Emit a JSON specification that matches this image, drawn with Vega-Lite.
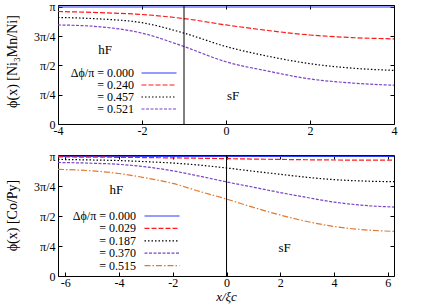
{
  "$schema": "https://vega.github.io/schema/vega-lite/v6.json",
  "padding": {"left": 4, "top": 0, "right": 0, "bottom": 0},
  "bounds": "flush",
  "spacing": 31,
  "config": {
    "font": "Liberation Serif",
    "view": {"stroke": "black", "strokeWidth": 1},
    "axis": {"grid": false, "domain": false, "tickColor": "black", "tickSize": -4, "labelColor": "black", "labelFontSize": 12, "labelFont": "Liberation Serif", "titleFont": "Liberation Serif", "titleFontWeight": "normal", "titleColor": "black", "titleFontSize": 14, "labelOverlap": false, "labelFlush": false, "labelBound": false},
    "legend": {"labelFont": "Liberation Serif", "labelFontSize": 12, "labelColor": "black"},
    "text": {"font": "Liberation Serif", "fontSize": 13, "color": "black"}
  },
  "datasets": {
    "top": [
      {"series": "0.000", "x": -4, "phi": 3.1416},
      {"series": "0.000", "x": 4, "phi": 3.1416},
      {"series": "0.240", "x": -4, "phi": 3.02},
      {"series": "0.240", "x": -3, "phi": 2.99},
      {"series": "0.240", "x": -2, "phi": 2.94},
      {"series": "0.240", "x": -1, "phi": 2.83},
      {"series": "0.240", "x": 0, "phi": 2.66},
      {"series": "0.240", "x": 1, "phi": 2.51},
      {"series": "0.240", "x": 2, "phi": 2.39},
      {"series": "0.240", "x": 3, "phi": 2.32},
      {"series": "0.240", "x": 4, "phi": 2.285},
      {"series": "0.457", "x": -4, "phi": 2.86},
      {"series": "0.457", "x": -3, "phi": 2.82},
      {"series": "0.457", "x": -2, "phi": 2.72},
      {"series": "0.457", "x": -1, "phi": 2.44},
      {"series": "0.457", "x": 0, "phi": 2.08},
      {"series": "0.457", "x": 1, "phi": 1.82},
      {"series": "0.457", "x": 2, "phi": 1.62},
      {"series": "0.457", "x": 3, "phi": 1.5},
      {"series": "0.457", "x": 4, "phi": 1.44},
      {"series": "0.521", "x": -4, "phi": 2.66},
      {"series": "0.521", "x": -3, "phi": 2.61},
      {"series": "0.521", "x": -2, "phi": 2.44},
      {"series": "0.521", "x": -1, "phi": 2.08},
      {"series": "0.521", "x": 0, "phi": 1.67},
      {"series": "0.521", "x": 1, "phi": 1.42},
      {"series": "0.521", "x": 2, "phi": 1.21},
      {"series": "0.521", "x": 3, "phi": 1.1},
      {"series": "0.521", "x": 4, "phi": 1.04}
    ],
    "bottom": [
      {"series": "0.000", "x": -6.27, "phi": 3.1416},
      {"series": "0.000", "x": 6.23, "phi": 3.1416},
      {"series": "0.029", "x": -6.27, "phi": 3.125},
      {"series": "0.029", "x": -4, "phi": 3.115},
      {"series": "0.029", "x": -2, "phi": 3.1},
      {"series": "0.029", "x": 0, "phi": 3.08},
      {"series": "0.029", "x": 2, "phi": 3.06},
      {"series": "0.029", "x": 4, "phi": 3.045},
      {"series": "0.029", "x": 6.23, "phi": 3.04},
      {"series": "0.187", "x": -6.27, "phi": 3.06},
      {"series": "0.187", "x": -5, "phi": 3.045},
      {"series": "0.187", "x": -4, "phi": 3.03},
      {"series": "0.187", "x": -3, "phi": 3.0},
      {"series": "0.187", "x": -2, "phi": 2.965},
      {"series": "0.187", "x": -1, "phi": 2.91},
      {"series": "0.187", "x": 0, "phi": 2.835},
      {"series": "0.187", "x": 1, "phi": 2.75},
      {"series": "0.187", "x": 2, "phi": 2.67},
      {"series": "0.187", "x": 3, "phi": 2.59},
      {"series": "0.187", "x": 4, "phi": 2.53},
      {"series": "0.187", "x": 5, "phi": 2.495},
      {"series": "0.187", "x": 6.23, "phi": 2.475},
      {"series": "0.370", "x": -6.27, "phi": 2.98},
      {"series": "0.370", "x": -5, "phi": 2.96},
      {"series": "0.370", "x": -4, "phi": 2.93},
      {"series": "0.370", "x": -3, "phi": 2.865},
      {"series": "0.370", "x": -2, "phi": 2.76},
      {"series": "0.370", "x": -1, "phi": 2.62},
      {"series": "0.370", "x": 0, "phi": 2.47},
      {"series": "0.370", "x": 1, "phi": 2.33},
      {"series": "0.370", "x": 2, "phi": 2.19},
      {"series": "0.370", "x": 3, "phi": 2.06},
      {"series": "0.370", "x": 4, "phi": 1.94},
      {"series": "0.370", "x": 5, "phi": 1.86},
      {"series": "0.370", "x": 6.23, "phi": 1.81},
      {"series": "0.515", "x": -6.27, "phi": 2.8},
      {"series": "0.515", "x": -5, "phi": 2.76},
      {"series": "0.515", "x": -4, "phi": 2.69},
      {"series": "0.515", "x": -3, "phi": 2.575},
      {"series": "0.515", "x": -2, "phi": 2.43},
      {"series": "0.515", "x": -1, "phi": 2.22},
      {"series": "0.515", "x": 0, "phi": 2.02},
      {"series": "0.515", "x": 1, "phi": 1.8},
      {"series": "0.515", "x": 2, "phi": 1.6},
      {"series": "0.515", "x": 3, "phi": 1.43},
      {"series": "0.515", "x": 4, "phi": 1.3},
      {"series": "0.515", "x": 5, "phi": 1.22},
      {"series": "0.515", "x": 6.23, "phi": 1.17}
    ]
  },
  "vconcat": [
    {
      "width": 336,
      "height": 119,
      "layer": [
        {
          "data": {"name": "top"},
          "mark": {"type": "line", "interpolate": "monotone", "strokeWidth": 1.2},
          "encoding": {
            "x": {"field": "x", "type": "quantitative", "scale": {"domain": [-4, 4], "nice": false, "zero": false},
                  "axis": {"orient": "bottom", "values": [-4, -2, 0, 2, 4], "labelExpr": "'' + datum.value", "title": null, "labelPadding": 5}},
            "y": {"field": "phi", "type": "quantitative", "scale": {"domain": [0, 3.195], "nice": false},
                  "axis": {"orient": "left", "values": [0, 0.7853981634, 1.5707963268, 2.3561944902, 3.14159],
                           "labelExpr": "datum.value > 3 ? 'π\u00a0\u00a0' : datum.value > 2 ? '3π/4' : datum.value > 1 ? 'π/2' : datum.value > 0.5 ? 'π/4' : '0\u00a0\u00a0'",
                           "labelPadding": 7, "title": "ϕ(x) [Ni₃Mn/Ni]", "titleX": -46, "titleY": 56, "titleBaseline": "middle", "titleAngle": 270}},
            "color": {"field": "series", "type": "nominal",
                      "scale": {"domain": ["0.000", "0.240", "0.457", "0.521"], "range": ["#2a3cff", "#ff1a1a", "#000000", "#7b45c6"]},
                      "legend": {"orient": "none", "legendX": 0, "legendY": 62, "title": null, "symbolType": "M-3.5,0H3.5", "symbolSize": 100, "symbolStrokeWidth": 1.2, "symbolOffset": 95, "labelOffset": -31, "labelAlign": "right", "rowPadding": 0, "padding": 0,
                                 "labelExpr": "datum.label == '0.000' ? 'Δϕ/π = ' + datum.label : '= ' + datum.label"}},
            "strokeDash": {"field": "series", "type": "nominal",
                           "scale": {"domain": ["0.000", "0.240", "0.457", "0.521"], "range": [[1, 0], [5, 2], [1.5, 2], [3, 1.5]]},
                           "legend": {"orient": "none", "legendX": 0, "legendY": 62, "title": null, "symbolType": "M-3.5,0H3.5", "symbolSize": 100, "symbolStrokeWidth": 1.2, "symbolOffset": 95, "labelOffset": -31, "labelAlign": "right", "rowPadding": 0, "padding": 0,
                                      "labelExpr": "datum.label == '0.000' ? 'Δϕ/π = ' + datum.label : '= ' + datum.label"}}
          }
        },
        {
          "data": {"values": [{}]},
          "mark": {"type": "rule", "color": "black", "strokeWidth": 1},
          "encoding": {
            "x": {"datum": -1, "type": "quantitative", "axis": {"orient": "top", "values": [-4, -2, 0, 2, 4], "labels": false, "title": null}}
          }
        },
        {
          "data": {"values": [{}]},
          "mark": {"type": "text"},
          "encoding": {
            "x": {"datum": -2.88, "type": "quantitative", "axis": null},
            "y": {"datum": 2.0, "type": "quantitative", "axis": {"orient": "right", "values": [0, 0.7853981634, 1.5707963268, 2.3561944902, 3.14159], "labels": false, "title": null}},
            "text": {"value": "hF"}
          }
        },
        {
          "data": {"values": [{}]},
          "mark": {"type": "text"},
          "encoding": {
            "x": {"datum": 0.17, "type": "quantitative", "axis": null},
            "y": {"datum": 0.75, "type": "quantitative", "axis": null},
            "text": {"value": "sF"}
          }
        }
      ],
      "resolve": {"axis": {"x": "independent", "y": "independent"}}
    },
    {
      "width": 336,
      "height": 121,
      "layer": [
        {
          "data": {"name": "bottom"},
          "mark": {"type": "line", "interpolate": "monotone", "strokeWidth": 1.2},
          "encoding": {
            "x": {"field": "x", "type": "quantitative", "scale": {"domain": [-6.27, 6.23], "nice": false, "zero": false},
                  "axis": {"orient": "bottom", "values": [-6, -4, -2, 0, 2, 4, 6], "labelExpr": "'' + datum.value", "labelPadding": 5, "title": "x/ξc", "titleFontStyle": "italic", "titleFontSize": 13, "titlePadding": 2}},
            "y": {"field": "phi", "type": "quantitative", "scale": {"domain": [0, 3.176], "nice": false},
                  "axis": {"orient": "left", "values": [0, 0.7853981634, 1.5707963268, 2.3561944902, 3.14159],
                           "labelExpr": "datum.value > 3 ? 'π\u00a0\u00a0' : datum.value > 2 ? '3π/4' : datum.value > 1 ? 'π/2' : datum.value > 0.5 ? 'π/4' : '0\u00a0\u00a0'",
                           "labelPadding": 7, "title": "ϕ(x) [Co/Py]", "titleX": -46, "titleY": 60, "titleBaseline": "middle", "titleAngle": 270}},
            "color": {"field": "series", "type": "nominal",
                      "scale": {"domain": ["0.000", "0.029", "0.187", "0.370", "0.515"], "range": ["#2a3cff", "#ff1a1a", "#000000", "#7b45c6", "#e07a30"]},
                      "legend": {"orient": "none", "legendX": 0, "legendY": 55, "title": null, "symbolType": "M-3.5,0H3.5", "symbolSize": 100, "symbolStrokeWidth": 1.2, "symbolOffset": 98, "labelOffset": -32, "labelAlign": "right", "rowPadding": 0.4, "padding": 0,
                                 "labelExpr": "datum.label == '0.000' ? 'Δϕ/π = ' + datum.label : '= ' + datum.label"}},
            "strokeDash": {"field": "series", "type": "nominal",
                           "scale": {"domain": ["0.000", "0.029", "0.187", "0.370", "0.515"], "range": [[1, 0], [5, 2], [1.5, 2], [3, 1.5], [6, 2, 1.5, 2]]},
                           "legend": {"orient": "none", "legendX": 0, "legendY": 55, "title": null, "symbolType": "M-3.5,0H3.5", "symbolSize": 100, "symbolStrokeWidth": 1.2, "symbolOffset": 98, "labelOffset": -32, "labelAlign": "right", "rowPadding": 0.4, "padding": 0,
                                      "labelExpr": "datum.label == '0.000' ? 'Δϕ/π = ' + datum.label : '= ' + datum.label"}}
          }
        },
        {
          "data": {"values": [{}]},
          "mark": {"type": "rule", "color": "black", "strokeWidth": 1},
          "encoding": {
            "x": {"datum": 0, "type": "quantitative", "axis": {"orient": "top", "values": [-6, -4, -2, 0, 2, 4, 6], "labels": false, "title": null}}
          }
        },
        {
          "data": {"values": [{}]},
          "mark": {"type": "text"},
          "encoding": {
            "x": {"datum": -4.1, "type": "quantitative", "axis": null},
            "y": {"datum": 2.25, "type": "quantitative", "axis": {"orient": "right", "values": [0, 0.7853981634, 1.5707963268, 2.3561944902, 3.14159], "labels": false, "title": null}},
            "text": {"value": "hF"}
          }
        },
        {
          "data": {"values": [{}]},
          "mark": {"type": "text"},
          "encoding": {
            "x": {"datum": 2.16, "type": "quantitative", "axis": null},
            "y": {"datum": 0.73, "type": "quantitative", "axis": null},
            "text": {"value": "sF"}
          }
        }
      ],
      "resolve": {"axis": {"x": "independent", "y": "independent"}}
    }
  ],
  "resolve": {"scale": {"color": "independent", "strokeDash": "independent"}, "legend": {"color": "independent", "strokeDash": "independent"}}
}
